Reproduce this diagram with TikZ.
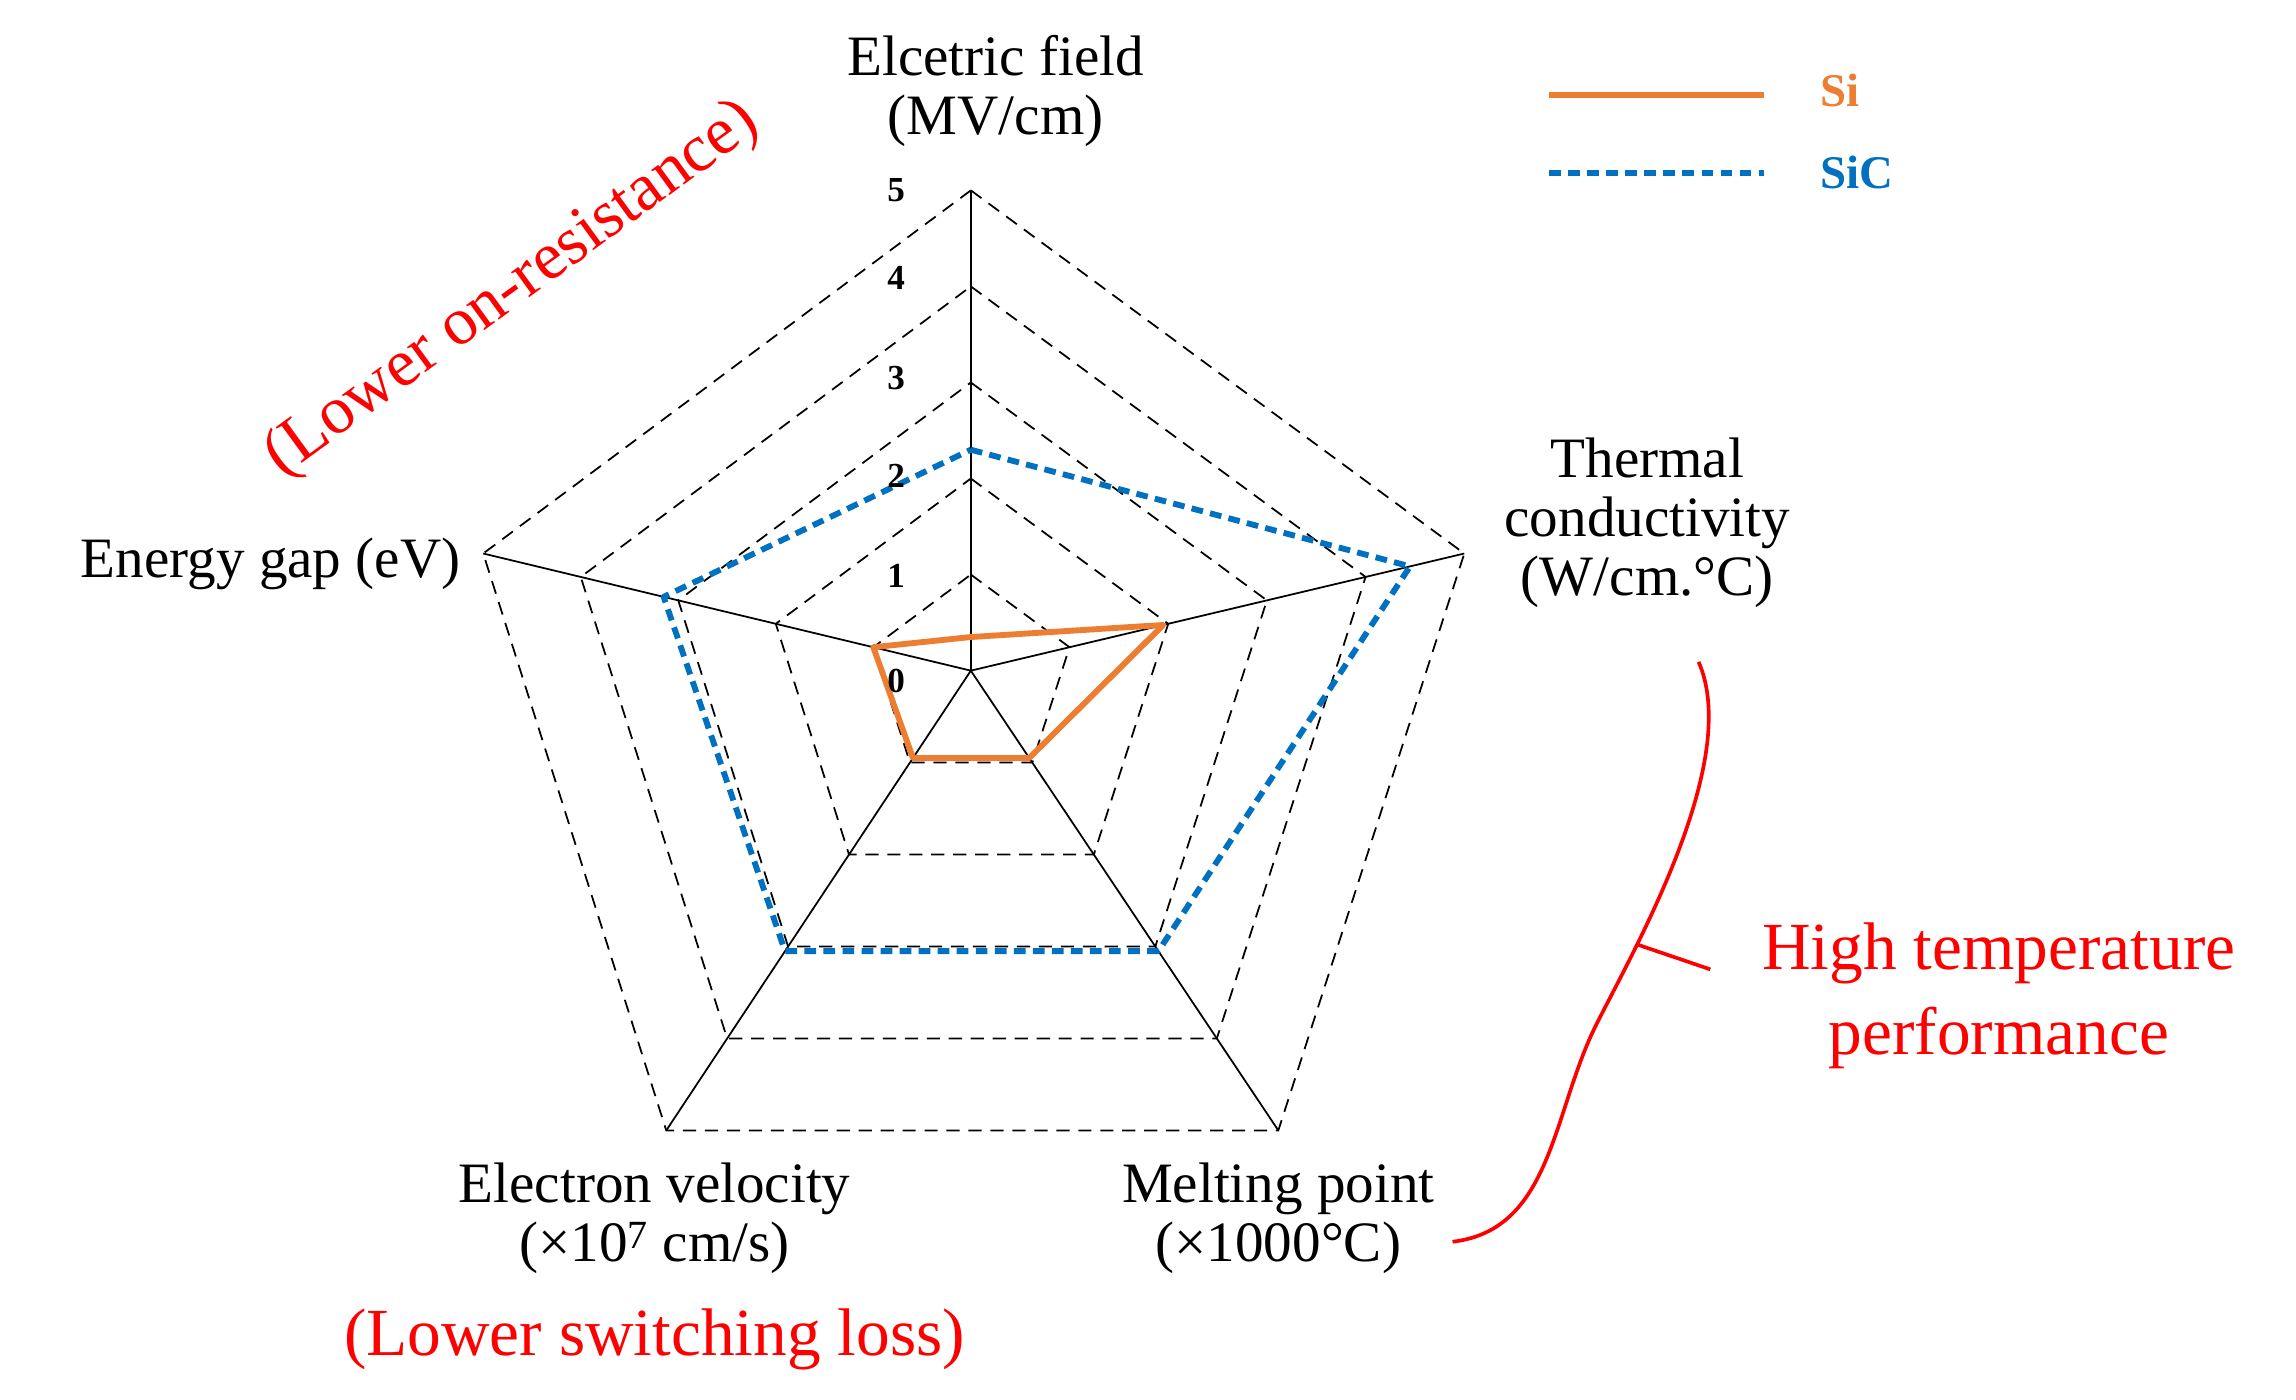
\documentclass[tikz,border=0pt]{standalone}
\usepackage{fontspec}
\setmainfont{Liberation Serif}
\usetikzlibrary{calc}
\definecolor{siorange}{RGB}{237,125,49}
\definecolor{sicblue}{RGB}{0,112,192}
\definecolor{lab}{RGB}{255,0,0}
\begin{document}
\begin{tikzpicture}[x=1pt,y=-1pt,
  ring/.style={dashed,black,line width=1.2pt,dash pattern=on 9pt off 6pt},
  axis/.style={black,line width=1.2pt},
  silin/.style={siorange,line width=4pt,line join=round},
  siclin/.style={sicblue,line width=4pt,dash pattern=on 8pt off 5pt,line join=round},
  lbl/.style={font=\fontsize{39}{40}\selectfont,align=center},
  redl/.style={font=\fontsize{46}{58}\selectfont,align=center,text=lab},
  tick/.style={font=\bfseries\fontsize{24}{26}\selectfont}]
\useasboundingbox (0,0) rectangle (1568,956);
\coordinate (O) at (663,458);
\coordinate (A) at (663,130);
\coordinate (B) at (1000,378);
\coordinate (C) at (873,772);
\coordinate (D) at (455,772);
\coordinate (E) at (330,378);
\foreach \k in {0.2,0.4,0.6,0.8,1}{
  \draw[ring] ($(O)!\k!(A)$) -- ($(O)!\k!(B)$) -- ($(O)!\k!(C)$) -- ($(O)!\k!(D)$) -- ($(O)!\k!(E)$) -- cycle;}
\foreach \v in {A,B,C,D,E} \draw[axis] (O) -- (\v);
\draw[siclin] ($(O)!0.46!(A)$) -- ($(O)!0.89!(B)$) -- ($(O)!0.61!(C)$) -- ($(O)!0.61!(D)$) -- ($(O)!0.63!(E)$) -- cycle;
\draw[silin] ($(O)!0.07!(A)$) -- ($(O)!0.39!(B)$) -- ($(O)!0.19!(C)$) -- ($(O)!0.19!(D)$) -- ($(O)!0.2!(E)$) -- cycle;
\foreach \n/\y in {0/465,1/393,2/325,3/258,4/190,5/130} \node[tick] (t\n) at (612,\y) {\n};
\node[lbl] (la) at (680,62) {Elcetric field\\(MV/cm)};
\node[lbl] (lb) at (1125,357) {Thermal\\conductivity\\(W/cm.\textdegree C)};
\node[lbl] (lc) at (873,832) {Melting point\\(×1000\textdegree C)};
\node[lbl] (ld) at (447,832) {Electron velocity\\(×10\textsuperscript{7} cm/s)};
\node[lbl,anchor=east] (le) at (318,385) {Energy gap (eV)};
\node[redl,rotate=36] (r1) at (350,198) {(Lower on-resistance)};
\node[redl] (r2) at (447,915) {(Lower switching loss)};
\node[redl] (r3) at (1365,680) {High temperature\\performance};
\draw[lab,line width=2.5pt] (992,848) .. controls (1060,840) and (1060,760) .. (1090,700)
  .. controls (1115,650) and (1190,520) .. (1160,452);
\draw[lab,line width=2.5pt] (1118,645) -- (1168,662);
\coordinate (l1a) at (1058,65); \coordinate (l1b) at (1205,65);
\coordinate (l2a) at (1058,118); \coordinate (l2b) at (1205,118);
\draw[silin] (l1a) -- (l1b);
\draw[siclin] (l2a) -- (l2b);
\node[font=\bfseries\fontsize{32}{34}\selectfont,text=siorange,anchor=west] (ls) at (1240,62) {Si};
\node[font=\bfseries\fontsize{32}{34}\selectfont,text=sicblue,anchor=west] (lsc) at (1240,118) {SiC};
\end{tikzpicture}
\end{document}
